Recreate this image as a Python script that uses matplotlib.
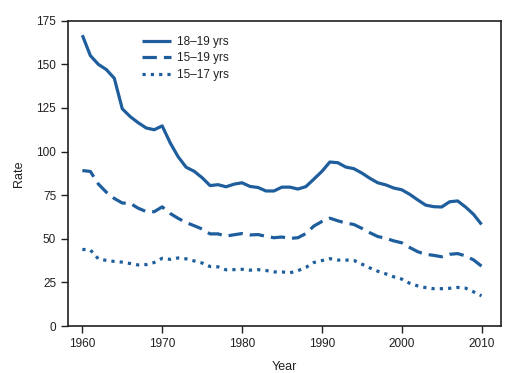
import matplotlib
matplotlib.use("Agg")
import matplotlib.pyplot as plt

years = list(range(1960, 2011))
rate_18_19 = [166.7, 155.0, 150.0, 147.0, 142.0, 124.5, 120.0, 116.5, 113.5, 112.5,
              114.7, 105.0, 97.0, 91.0, 88.7, 85.0, 80.5, 81.0, 79.8, 81.3,
              82.1, 80.0, 79.4, 77.4, 77.4, 79.6, 79.6, 78.5, 79.9, 84.2,
              88.6, 94.0, 93.6, 91.1, 90.2, 87.7, 84.7, 82.1, 80.9, 79.1,
              78.1, 75.5, 72.3, 69.3, 68.4, 68.2, 71.2, 71.7, 68.2, 64.0, 58.2]
rate_15_19 = [89.1, 88.6, 81.4, 76.7, 73.1, 70.5, 70.3, 67.5, 65.6, 65.5,
              68.3, 64.5, 61.7, 59.3, 57.5, 55.6, 52.8, 52.8, 51.5, 52.3,
              53.0, 52.2, 52.4, 51.4, 50.6, 51.0, 50.2, 50.6, 53.0, 57.3,
              59.9, 61.8, 60.3, 59.0, 58.2, 56.0, 53.5, 51.3, 50.3, 48.8,
              47.7, 45.0, 42.6, 41.1, 40.5, 39.7, 41.1, 41.5, 40.2, 37.9, 34.3]
rate_15_17 = [43.9, 43.6, 38.5, 37.6, 37.0, 36.6, 35.8, 35.0, 35.2, 36.4,
              38.8, 38.2, 39.0, 38.5, 37.3, 36.1, 34.1, 33.9, 32.2, 32.3,
              32.5, 32.0, 32.3, 31.8, 31.0, 31.0, 30.5, 31.7, 33.6, 36.4,
              37.5, 38.6, 37.8, 37.8, 37.6, 35.5, 33.3, 31.4, 29.9, 28.2,
              26.9, 24.5, 23.0, 22.0, 21.4, 21.4, 21.6, 22.1, 21.7, 19.6, 17.3]
series_labels = ["18\u201319 yrs", "15\u201319 yrs", "15\u201317 yrs"]
x_ticks = [1960, 1970, 1980, 1990, 2000, 2010]
y_ticks = [0, 25, 50, 75, 100, 125, 150, 175]

plt.rcParams['font.family'] = ['Liberation Sans Narrow', 'Liberation Sans', 'DejaVu Sans']
color = '#1f5e9c'
text_color = '#231f20'

fig = plt.figure(figsize=(5.25, 3.73), dpi=100)
ax = fig.add_axes([0.1295, 0.126, 0.8242, 0.8185])

lw = 2.3
ax.plot(years, rate_18_19, color=color, lw=lw, solid_capstyle='butt', label=series_labels[0])
ax.plot(years, rate_15_19, color=color, lw=lw, linestyle=(0, (4.5, 2.2)), dash_capstyle='butt', label=series_labels[1])
ax.plot(years, rate_15_17, color=color, lw=lw, linestyle=(0, (1.0, 1.6)), dash_capstyle='butt', label=series_labels[2])

ax.set_xlim(1958.2, 2012.4)
ax.set_ylim(0, 175)
ax.set_xticks(x_ticks)
ax.set_yticks(y_ticks)
ax.tick_params(axis='both', direction='out', length=5, width=1, colors=text_color, labelsize=8.5)
ax.tick_params(top=False, right=False)
for s in ax.spines.values():
    s.set_color(text_color)
    s.set_linewidth(1.2)

ax.set_xlabel('Year', fontsize=9, color=text_color, labelpad=8)
ax.set_ylabel('Rate', fontsize=9, color=text_color, labelpad=8)

leg = ax.legend(loc='upper left', bbox_to_anchor=(0.146, 0.985), frameon=False,
                fontsize=8.5, handlelength=2.45, handletextpad=0.5, labelspacing=0.38,
                labelcolor=text_color)

fig.savefig('out.png', dpi=100)
